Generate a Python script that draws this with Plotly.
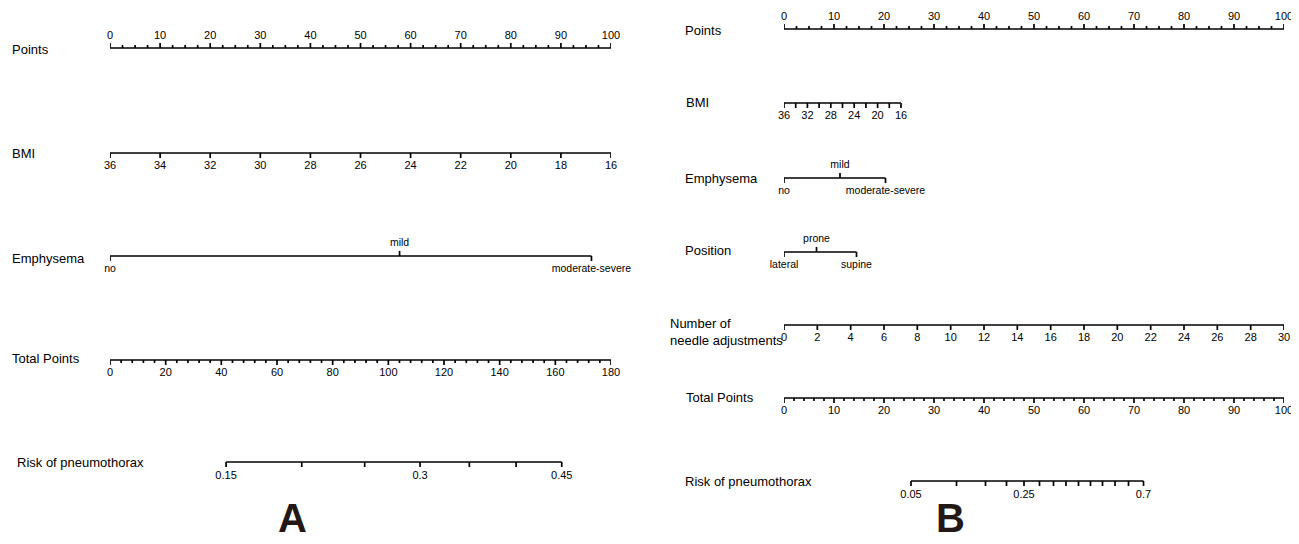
import plotly.graph_objects as go

# ---------------- DATA ----------------
# Panel A
a_points_ticks = [0, 10, 20, 30, 40, 50, 60, 70, 80, 90, 100]
a_bmi_ticks = [36, 34, 32, 30, 28, 26, 24, 22, 20, 18, 16]
a_bmi_range = [36, 16]          # BMI values at the ends of the scale
a_bmi_points = [0, 100]         # points at those ends
a_emph_levels = ["no", "mild", "moderate-severe"]
a_emph_points = [0, 57.8, 96.1]
a_total_ticks = [0, 20, 40, 60, 80, 100, 120, 140, 160, 180]
a_risk_values = [0.15, 0.2, 0.25, 0.3, 0.35, 0.4, 0.45]
a_risk_total = [41.7, 68.9, 91.5, 111.4, 129.1, 145.9, 162.3]
a_risk_labels = ["0.15", "", "", "0.3", "", "", "0.45"]

# Panel B
b_points_ticks = [0, 10, 20, 30, 40, 50, 60, 70, 80, 90, 100]
b_bmi_ticks = [36, 34, 32, 30, 28, 26, 24, 22, 20, 18, 16]
b_bmi_labels = ["36", "", "32", "", "28", "", "24", "", "20", "", "16"]
b_bmi_range = [36, 16]
b_bmi_points = [0, 23.4]
b_emph_levels = ["no", "mild", "moderate-severe"]
b_emph_points = [0, 11.2, 20.3]
b_pos_levels = ["lateral", "prone", "supine"]
b_pos_points = [0, 6.5, 14.5]
b_needle_ticks = [0, 2, 4, 6, 8, 10, 12, 14, 16, 18, 20, 22, 24, 26, 28, 30]
b_needle_range = [0, 30]
b_needle_points = [0, 100]
b_total_ticks = [0, 10, 20, 30, 40, 50, 60, 70, 80, 90, 100]
b_risk_values = [0.05, 0.1, 0.15, 0.2, 0.25, 0.3, 0.35, 0.4, 0.45, 0.5, 0.55, 0.6, 0.65, 0.7]
b_risk_total = [25.4, 34.5, 40.3, 44.5, 48.0, 51.1, 53.9, 56.4, 58.9, 61.3, 63.7, 66.2, 68.9, 71.9]
b_risk_labels = ["0.05", "", "", "", "0.25", "", "", "", "", "", "", "", "", "0.7"]

# ---------------- STYLE ----------------
W, H = 1299, 544
OFF = 8   # page body margin: figure starts 8px in from the window's corner
FONT = "Liberation Sans, Arial, Helvetica, sans-serif"
LW = 1.7
MAJ = 5
MIN = 3
TICK_FS = 11
CAT_FS = 10.5
TITLE_FS = 13

fig = go.Figure()


def px_paper(px):
    return (px - OFF) / W


def scale(vals, vrange, prange):
    v0, v1 = vrange
    p0, p1 = prange
    return [p0 + (v - v0) / (v1 - v0) * (p1 - p0) for v in vals]


def axis_line(xa, xs, y):
    fig.add_trace(go.Scatter(x=[min(xs), max(xs)], y=[y, y], mode="lines",
                             line=dict(color="black", width=LW), xaxis=xa, yaxis="y",
                             hoverinfo="skip", showlegend=False, cliponaxis=False))


def tick_marks(xa, xs, y, length, up, width=LW):
    tx, ty = [], []
    for x in xs:
        tx += [x, x, None]
        ty += [y, y - length if up else y + length, None]
    fig.add_trace(go.Scatter(x=tx, y=ty, mode="lines",
                             line=dict(color="black", width=width), xaxis=xa, yaxis="y",
                             hoverinfo="skip", showlegend=False, cliponaxis=False))


def tick_text(xa, xs, texts, y, size=TICK_FS):
    fig.add_trace(go.Scatter(x=xs, y=[y] * len(xs), mode="text", text=texts,
                             textposition="middle center",
                             textfont=dict(family=FONT, size=size, color="black"),
                             xaxis=xa, yaxis="y", hoverinfo="skip", showlegend=False,
                             cliponaxis=False))


def minor_vals(lo, hi, step, majors):
    out = []
    k = 0
    while lo + k * step <= hi + 1e-9:
        v = lo + k * step
        if all(abs(v - m) > 1e-6 for m in majors):
            out.append(v)
        k += 1
    return out


def title(text, xpx, ypx):
    fig.add_annotation(text=text, xref="paper", yref="y", x=px_paper(xpx), y=ypx,
                       xanchor="left", yanchor="middle", showarrow=False, align="left",
                       font=dict(family=FONT, size=TITLE_FS, color="black"))


def categorical(xa, pts, levels, y):
    axis_line(xa, pts, y)
    for i, (p, lab) in enumerate(zip(pts, levels)):
        up = (i % 2 == 1)
        tick_marks(xa, [p], y, MAJ, up)
        tick_text(xa, [p], [lab], y - 13 if up else y + 13, CAT_FS)


# ---------------- PANEL A ----------------
yA = dict(points=48, bmi=153, emph=256, total=360, risk=462)

axis_line("x", a_points_ticks, yA["points"])
tick_marks("x", a_points_ticks, yA["points"], MAJ, True)
tick_marks("x", minor_vals(0, 100, 2.5, a_points_ticks), yA["points"], MIN, True)
tick_text("x", a_points_ticks, [str(v) for v in a_points_ticks], yA["points"] - 12)
title("Points", 10, yA["points"] + 1)

bx = scale(a_bmi_ticks, a_bmi_range, a_bmi_points)
axis_line("x", bx, yA["bmi"])
tick_marks("x", bx, yA["bmi"], MAJ, False)
tick_text("x", bx, [str(v) for v in a_bmi_ticks], yA["bmi"] + 13)
title("BMI", 10, yA["bmi"])

categorical("x", a_emph_points, a_emph_levels, yA["emph"])
title("Emphysema", 10, yA["emph"] + 2)

axis_line("x2", a_total_ticks, yA["total"])
tick_marks("x2", a_total_ticks, yA["total"], MAJ, False)
tick_marks("x2", minor_vals(0, 180, 4, a_total_ticks), yA["total"], MIN, False)
tick_text("x2", a_total_ticks, [str(v) for v in a_total_ticks], yA["total"] + 13)
title("Total Points", 10, yA["total"] - 2)

axis_line("x2", a_risk_total, yA["risk"])
tick_marks("x2", a_risk_total, yA["risk"], MAJ, False)
tick_text("x2", a_risk_total, a_risk_labels, yA["risk"] + 14)
title("Risk of pneumothorax", 15, yA["risk"])

# ---------------- PANEL B ----------------
yB = dict(points=29, bmi=103, emph=178, pos=252, needle=325, total=398, risk=481)

axis_line("x3", b_points_ticks, yB["points"])
tick_marks("x3", b_points_ticks, yB["points"], MAJ, True)
tick_marks("x3", minor_vals(0, 100, 2.5, b_points_ticks), yB["points"], MIN, True)
tick_text("x3", b_points_ticks, [str(v) for v in b_points_ticks], yB["points"] - 12)
title("Points", 683, yB["points"] + 1)

bbx = scale(b_bmi_ticks, b_bmi_range, b_bmi_points)
axis_line("x3", bbx, yB["bmi"])
tick_marks("x3", bbx, yB["bmi"], MAJ, False)
tick_text("x3", bbx, b_bmi_labels, yB["bmi"] + 13)
title("BMI", 684, yB["bmi"] - 1)

categorical("x3", b_emph_points, b_emph_levels, yB["emph"])
title("Emphysema", 683, yB["emph"])

categorical("x3", b_pos_points, b_pos_levels, yB["pos"])
title("Position", 683, yB["pos"] - 2)

nx = scale(b_needle_ticks, b_needle_range, b_needle_points)
axis_line("x3", nx, yB["needle"])
tick_marks("x3", nx, yB["needle"], MAJ, False)
tick_text("x3", nx, [str(v) for v in b_needle_ticks], yB["needle"] + 13)
title("Number of<br>needle adjustments", 668, yB["needle"] + 7)

axis_line("x4", b_total_ticks, yB["total"])
tick_marks("x4", b_total_ticks, yB["total"], MAJ, False)
tick_marks("x4", minor_vals(0, 100, 2, b_total_ticks), yB["total"], MIN, False)
tick_text("x4", b_total_ticks, [str(v) for v in b_total_ticks], yB["total"] + 13)
title("Total Points", 684, yB["total"] - 1)

axis_line("x4", b_risk_total, yB["risk"])
tick_marks("x4", b_risk_total, yB["risk"], MAJ, False)
tick_text("x4", b_risk_total, b_risk_labels, yB["risk"] + 14)
title("Risk of pneumothorax", 683, yB["risk"])

# Panel letters
for letter, xpx in (("A", 292), ("B", 950)):
    fig.add_annotation(text="<b>%s</b>" % letter, xref="paper", yref="y", x=px_paper(xpx), y=518,
                       xanchor="center", yanchor="middle", showarrow=False,
                       font=dict(family=FONT, size=40, color="#231815"))

# ---------------- LAYOUT ----------------
hidden = dict(visible=False, showgrid=False, zeroline=False, fixedrange=True)
domA = [px_paper(110), px_paper(611)]
domB = [px_paper(784), px_paper(1284)]
fig.update_layout(
    width=W, height=H,
    margin=dict(l=0, r=0, t=0, b=0),
    paper_bgcolor="white", plot_bgcolor="white",
    showlegend=False,
    xaxis=dict(domain=domA, range=[0, 100], anchor="y", **hidden),
    xaxis2=dict(domain=domA, range=[0, 180], anchor="y", overlaying="x", **hidden),
    xaxis3=dict(domain=domB, range=[0, 100], anchor="y", **hidden),
    xaxis4=dict(domain=domB, range=[0, 100], anchor="y", overlaying="x3", **hidden),
    yaxis=dict(domain=[0, 1], range=[H + OFF, OFF], **hidden),
)

fig.write_html("out.html")
